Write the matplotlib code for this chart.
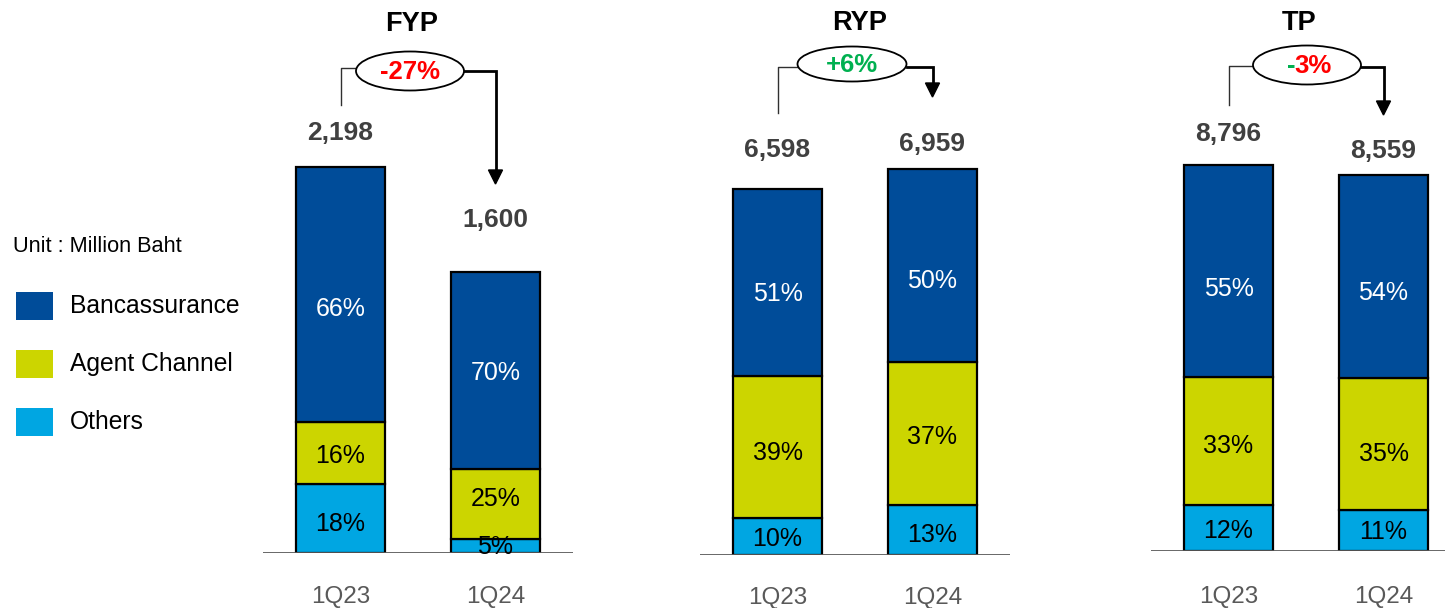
import matplotlib
matplotlib.use('Agg')
import matplotlib.pyplot as plt
import matplotlib.transforms as mtransforms
from matplotlib.patches import Ellipse, Rectangle, Polygon
from matplotlib.lines import Line2D

plt.rcParams['font.family'] = ['Liberation Sans', 'DejaVu Sans']

# ---------------- data ----------------
periods = ['1Q23', '1Q24']
metrics = ['FYP', 'RYP', 'TP']

fyp_totals = [2198, 1600]
ryp_totals = [6598, 6959]
tp_totals = [8796, 8559]

fyp_banca = [66, 70]
fyp_agent = [16, 25]
fyp_others = [18, 5]

ryp_banca = [51, 50]
ryp_agent = [39, 37]
ryp_others = [10, 13]

tp_banca = [55, 54]
tp_agent = [33, 35]
tp_others = [12, 11]

changes = ['-27%', '+6%', '-3%']
channels = ['Bancassurance', 'Agent Channel', 'Others']
unit_text = 'Unit : Million Baht'

# ---------------- style ----------------
C_BANCA = '#004C99'
C_AGENT = '#CCD500'
C_OTHER = '#00A6E2'
GRAY = '#404040'
AXGRAY = '#595959'
RED = '#FF0000'
GREEN = '#00B050'

W, H = 1445, 608
fig = plt.figure(figsize=(W / 100, H / 100), dpi=100)
# pixel transform (origin top-left)
PX = mtransforms.Affine2D().scale(1 / W, -1 / H).translate(0, 1) + fig.transFigure

panel_data = [
    (fyp_totals, fyp_banca, fyp_agent, fyp_others),
    (ryp_totals, ryp_banca, ryp_agent, ryp_others),
    (tp_totals, tp_banca, tp_agent, tp_others),
]
# layout: left px, baseline px
panel_layout = [(263, 553), (700, 555), (1151, 551)]
AX_W = 310
BAR_PX = 386  # pixel height of tallest bar
value_offsets = [(34, 52), (39, 25), (31, 24)]  # px above bar top
tick_pads = [24, 23, 25]
# label shifts (px downward) relative to segment centre: (others, agent, banca) per bar
label_shift = [
    [(6, 3, 15), (1, -5, 3)],
    [(2, 6, 12), (5, 4, 16)],
    [(3, 5, 18), (2, 10, 16)],
]

axes = []
for (totals, banca, agent, others), (lpx, base), offs, shifts, tpad in zip(
        panel_data, panel_layout, value_offsets, label_shift, tick_pads):
    ax = fig.add_axes([lpx / W, 1 - base / H, AX_W / W, base / H])
    axes.append(ax)
    ymax = max(totals) * base / BAR_PX
    ax.set_ylim(0, ymax)
    ax.set_xlim(-0.5, 1.5)
    x = [0, 1]
    o_vals = [t * p / 100 for t, p in zip(totals, others)]
    a_vals = [t * p / 100 for t, p in zip(totals, agent)]
    b_vals = [t * p / 100 for t, p in zip(totals, banca)]
    bottoms_a = o_vals
    bottoms_b = [o + a for o, a in zip(o_vals, a_vals)]
    kw = dict(width=0.58, edgecolor='black', linewidth=1.6, zorder=3)
    ax.bar(x, o_vals, color=C_OTHER, **kw)
    ax.bar(x, a_vals, bottom=bottoms_a, color=C_AGENT, **kw)
    ax.bar(x, b_vals, bottom=bottoms_b, color=C_BANCA, **kw)
    for i in x:
        so, sa, sb = shifts[i]
        for yc, txt, col, sh in [
            (o_vals[i] / 2, f'{others[i]}%', 'black', so),
            (bottoms_a[i] + a_vals[i] / 2, f'{agent[i]}%', 'black', sa),
            (bottoms_b[i] + b_vals[i] / 2, f'{banca[i]}%', 'white', sb),
        ]:
            ax.annotate(txt, xy=(i, yc), xytext=(0, -sh), textcoords='offset pixels',
                        ha='center', va='center', fontsize=18, color=col, zorder=5)
        ax.annotate(f'{totals[i]:,}', xy=(i, totals[i]), xytext=(0, offs[i]),
                    textcoords='offset pixels', ha='center', va='center',
                    fontsize=19, fontweight='bold', color=GRAY, annotation_clip=False)
    ax.axhline(0, color=AXGRAY, lw=2, zorder=4)
    for s in ax.spines.values():
        s.set_visible(False)
    ax.set_yticks([])
    ax.set_xticks(x)
    ax.set_xticklabels(periods, fontsize=17.5, color=AXGRAY)
    ax.tick_params(axis='x', length=0, pad=tpad)
    ax.patch.set_alpha(0)

# ---------------- titles & change annotations ----------------
titles_px = [(412, 24), (860, 23), (1299, 23)]
# ellipse cx, cy, w, h; left horizontal y, left bottom y; right horizontal y, arrow tip y
ann_layout = [
    (410, 71, 108, 39, 68, 105, 71, 184),
    (852, 64, 109, 35, 67, 113, 67, 97),
    (1307, 65, 108, 39, 66, 105, 67, 115),
]
change_colors = [[RED], [GREEN], [GREEN, RED]]

for ax, title, tpos, ann, chg, ccol in zip(axes, metrics, titles_px, ann_layout, changes, change_colors):
    fig.text(*tpos, title, transform=PX, ha='center', va='center', fontsize=19.5,
             fontweight='bold', color='black')
    cx, cy, ew, eh, ly, lb, ry, tip = ann
    x0 = ax.transData.transform((0, 0))[0]
    x1 = ax.transData.transform((1, 0))[0]
    fig.add_artist(Ellipse((cx, cy), ew, eh, transform=PX, facecolor='white',
                           edgecolor='black', lw=1.3, zorder=5))
    fig.add_artist(Line2D([x0, x0, cx - ew / 2], [lb, ly, ly], transform=PX,
                          color='#303030', lw=1.0))
    head = 14
    fig.add_artist(Line2D([cx + ew / 2, x1, x1], [ry, ry, tip - head + 1], transform=PX,
                          color='black', lw=2.0, solid_joinstyle='miter'))
    fig.add_artist(Polygon([[x1 - 7, tip - head], [x1 + 7, tip - head], [x1, tip]],
                           closed=True, transform=PX, facecolor='black', edgecolor='black'))
    if len(ccol) == 1:
        fig.text(cx, cy + 1, chg, transform=PX, ha='center', va='center', fontsize=18.5,
                 fontweight='bold', color=ccol[0], zorder=6)
    else:
        fig.text(cx - 12, cy + 1, chg[0], transform=PX, ha='right', va='center', fontsize=18.5,
                 fontweight='bold', color=ccol[0], zorder=6)
        fig.text(cx - 13, cy + 1, chg[1:], transform=PX, ha='left', va='center', fontsize=18.5,
                 fontweight='bold', color=ccol[1], zorder=6)

# ---------------- legend ----------------
fig.text(13, 246, unit_text, transform=PX, ha='left', va='center', fontsize=15.7, color='black')
leg_colors = [C_BANCA, C_AGENT, C_OTHER]
leg_y = [306, 364, 422]
for lab, col, yc in zip(channels, leg_colors, leg_y):
    fig.add_artist(Rectangle((16, yc + 14), 37, -28, transform=PX, facecolor=col,
                             edgecolor='none'))
    fig.text(70, yc, lab, transform=PX, ha='left', va='center', fontsize=17.7, color='black')

fig.savefig('out.png', dpi=100)
